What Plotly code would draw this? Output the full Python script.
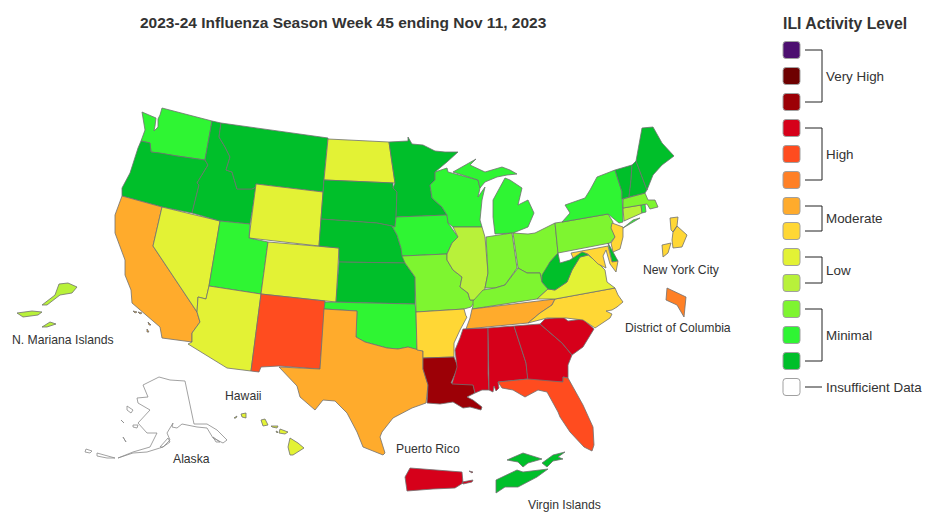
"""ILI activity map, week 45. Plotly's topojson needs the network, so the state
outlines are traced from the picture and drawn as filled traces."""
import plotly.graph_objects as go

TITLE = "2023-24 Influenza Season Week 45 ending Nov 11, 2023"
LEGEND_TITLE = "ILI Activity Level"

# activity level per jurisdiction (1 = lowest, 13 = highest, 0 = insufficient data)
STATES = ["WA", "OR", "CA", "NV", "ID", "MT", "WY", "UT", "AZ", "CO", "NM", "ND", "SD", "NE", "KS",
          "OK", "TX", "MN", "IA", "MO", "AR", "LA", "WI", "IL", "MI", "IN", "OH", "KY", "TN", "MS",
          "AL", "GA", "FL", "SC", "NC", "VA", "WV", "PA", "NY", "NJ", "DE", "MD", "CT", "RI", "MA",
          "VT", "NH", "ME", "AK", "HI", "NYC", "DC", "PR", "VI", "MP"]
LEVELS = [2, 1, 7, 5, 1, 1, 5, 2, 5, 5, 9, 5, 1, 1, 1,
          2, 7, 1, 2, 3, 6, 11, 2, 4, 2, 3, 3, 3, 7, 10,
          10, 10, 9, 10, 6, 5, 1, 3, 2, 6, 1, 6, 4, 2, 3,
          1, 1, 1, 0, 5, 6, 8, 10, 1, 4]

LEVEL_COLORS = ["#FFFFFF", "#00BF2A", "#2FF533", "#7EF530", "#B8F13A", "#E3F235", "#FFD735", "#FFAB2C",
                "#FF8026", "#FF4C1F", "#D6001A", "#9C0006", "#6E0000", "#4D0F70"]

LEGEND_LEVELS = [13, 12, 11, 10, 9, 8, 7, 6, 5, 4, 3, 2, 1, 0]
GROUP_LABELS = ["Very High", "High", "Moderate", "Low", "Minimal", "Insufficient Data"]
GROUP_LEVELS = [(13, 11), (10, 8), (7, 6), (5, 4), (3, 1), (0, 0)]

MAP_LABELS = ["N. Mariana Islands", "Hawaii", "Alaska", "Puerto Rico", "Virgin Islands",
              "New York City", "District of Columbia"]
MAP_LABEL_X = [63, 243, 191, 428, 564, 681, 678]
MAP_LABEL_Y = [340, 396, 459, 449, 505, 270, 328]

# outlines in picture coordinates, one or more rings per jurisdiction
OUTLINES = {
    "WA": [[(142, 112), (150, 115), (156, 118), (155, 126), (154, 131), (158, 127), (158, 119), (160, 115), (162, 108),
            (212, 121), (205, 160), (177, 156), (160, 153), (151, 152), (150, 143), (141, 141), (145, 130)]],
    "OR": [[(141, 141), (150, 143), (151, 152), (160, 153), (177, 156), (205, 160), (208, 165), (197, 183),
            (199, 185), (192, 213), (162, 207), (122, 196), (122, 188), (130, 173), (138, 148)]],
    "CA": [[(122, 196), (162, 207), (153, 246), (197, 312), (200, 322), (192, 333), (192, 342), (162, 338),
            (160, 327), (143, 313), (132, 303), (131, 290), (125, 275), (125, 260), (115, 233), (115, 215), (120, 202)],
           [(133, 311), (137, 312), (135, 313)], [(138, 312), (142, 313), (140, 314)],
           [(148, 322), (151, 325), (149, 325)], [(147, 329), (149, 332), (147, 332)]],
    "NV": [[(162, 207), (220, 221), (209, 286), (206, 299), (198, 297), (197, 312), (153, 246)]],
    "ID": [[(212, 121), (221, 123), (219, 137), (225, 147), (230, 157), (226, 170), (232, 172), (237, 189),
            (252, 189), (256, 187), (250, 224), (220, 221), (192, 213), (199, 185), (197, 183), (208, 165), (205, 160)]],
    "MT": [[(221, 123), (328, 138), (324, 179), (323, 192), (256, 184), (256, 187), (252, 189), (237, 189),
            (232, 172), (226, 170), (230, 157), (225, 147), (219, 137)]],
    "WY": [[(256, 184), (323, 192), (319, 246), (249, 238)]],
    "UT": [[(220, 221), (250, 224), (249, 238), (268, 242), (261, 294), (209, 286)]],
    "AZ": [[(209, 286), (261, 294), (251, 371), (227, 368), (188, 344), (192, 342), (192, 333), (200, 322),
            (197, 312), (198, 297), (206, 299)]],
    "CO": [[(268, 242), (339, 248), (336, 302), (261, 294)]],
    "NM": [[(261, 294), (325, 301), (320, 369), (279, 366), (261, 367), (259, 372), (251, 371)]],
    "ND": [[(328, 139), (389, 142), (392, 163), (395, 183), (324, 180)]],
    "SD": [[(324, 180), (393, 183), (393, 188), (397, 192), (396, 217), (395, 227), (392, 226), (377, 223), (321, 219)]],
    "NE": [[(321, 219), (377, 223), (392, 226), (397, 235), (401, 248), (405, 263), (339, 262), (339, 248), (319, 246)]],
    "KS": [[(339, 262), (405, 263), (410, 270), (415, 277), (415, 304), (336, 302)]],
    "OK": [[(325, 302), (415, 304), (416, 312), (417, 350), (408, 347), (398, 349), (387, 348), (365, 342),
            (356, 337), (357, 311), (324, 309)]],
    "TX": [[(324, 309), (357, 311), (356, 337), (365, 342), (387, 348), (398, 349), (408, 347), (423, 351),
            (423, 369), (428, 385), (426, 403), (413, 407), (412, 408), (393, 418), (382, 432), (380, 437),
            (385, 453), (383, 455), (363, 447), (357, 432), (347, 413), (335, 401), (323, 400), (315, 410),
            (300, 397), (297, 386), (279, 367), (320, 369)]],
    "MN": [[(389, 142), (408, 141), (408, 137), (412, 144), (423, 145), (435, 151), (445, 152), (458, 152),
            (447, 162), (435, 172), (435, 180), (430, 185), (432, 198), (442, 207), (447, 215), (396, 217),
            (397, 192), (393, 188), (395, 183), (392, 163)]],
    "IA": [[(396, 217), (447, 215), (448, 223), (458, 237), (452, 243), (447, 254), (402, 256), (401, 248),
            (397, 235), (392, 226), (395, 227)]],
    "MO": [[(402, 256), (447, 254), (447, 260), (453, 270), (462, 277), (460, 287), (468, 293), (470, 300),
            (476, 300), (471, 307), (464, 309), (416, 312), (415, 277), (410, 270), (405, 263)]],
    "AR": [[(416, 312), (464, 309), (466, 316), (467, 317), (460, 330), (454, 343), (454, 357), (423, 358),
            (423, 351), (417, 350)]],
    "LA": [[(423, 358), (454, 357), (458, 367), (451, 383), (473, 384), (475, 393), (467, 397), (473, 400),
            (482, 407), (481, 410), (470, 407), (463, 408), (453, 402), (440, 404), (427, 403), (428, 385), (423, 369)]],
    "WI": [[(435, 172), (447, 168), (448, 172), (478, 180), (480, 188), (478, 197), (485, 187), (482, 200),
            (480, 220), (482, 227), (453, 227), (448, 223), (447, 215), (442, 207), (432, 198), (430, 185), (435, 180)]],
    "IL": [[(453, 227), (482, 227), (485, 237), (488, 273), (485, 288), (483, 297), (476, 300), (470, 300),
            (468, 293), (460, 287), (462, 277), (453, 270), (447, 260), (447, 254), (452, 243), (458, 237)]],
    "MI": [[(453, 172), (470, 163), (476, 159), (470, 165), (480, 170), (485, 172), (502, 167), (510, 170),
            (517, 174), (507, 175), (497, 177), (485, 182), (480, 188), (478, 180)],
           [(505, 178), (510, 180), (522, 188), (518, 205), (528, 200), (534, 213), (528, 227), (513, 233),
            (495, 234), (493, 217), (493, 200), (500, 188)]],
    "IN": [[(486, 237), (512, 233), (517, 268), (505, 285), (495, 288), (485, 288), (488, 273)]],
    "OH": [[(513, 233), (528, 234), (535, 233), (555, 223), (558, 253), (550, 262), (542, 282), (540, 273),
            (527, 273), (518, 268)]],
    "KY": [[(473, 301), (483, 290), (495, 288), (505, 285), (518, 268), (527, 273), (540, 273), (542, 282),
            (548, 289), (537, 299), (472, 309), (473, 306)]],
    "TN": [[(472, 309), (555, 299), (552, 305), (540, 313), (528, 323), (466, 329), (470, 318)]],
    "MS": [[(463, 329), (488, 328), (488, 373), (489, 390), (482, 390), (475, 393), (473, 385), (452, 384),
            (457, 367), (455, 350), (460, 338)]],
    "AL": [[(488, 328), (514, 326), (526, 363), (528, 379), (498, 382), (499, 388), (496, 391), (494, 386),
            (493, 392), (489, 390)]],
    "GA": [[(514, 326), (540, 324), (562, 343), (572, 355), (568, 365), (568, 378), (563, 377), (563, 382),
            (528, 382), (526, 363)]],
    "FL": [[(498, 382), (528, 379), (563, 382), (563, 377), (568, 378), (583, 405), (593, 427), (594, 445),
            (592, 451), (584, 447), (570, 432), (560, 417), (558, 412), (547, 392), (538, 390), (525, 397),
            (513, 390), (502, 388)]],
    "SC": [[(540, 324), (545, 319), (563, 317), (568, 321), (583, 319), (594, 329), (583, 347), (572, 355), (562, 343)]],
    "NC": [[(555, 299), (615, 288), (618, 295), (623, 302), (617, 307), (612, 310), (606, 311), (612, 314),
            (610, 318), (595, 328), (583, 320), (566, 318), (547, 318), (528, 323), (540, 313), (552, 305)]],
    "VA": [[(537, 299), (548, 289), (555, 290), (567, 282), (572, 270), (580, 257), (588, 255), (597, 262),
            (605, 270), (607, 282), (615, 288), (555, 299)]],
    "WV": [[(542, 282), (542, 275), (550, 262), (558, 253), (560, 263), (570, 260), (583, 251), (588, 255),
            (580, 257), (572, 270), (567, 282), (555, 290), (548, 289)]],
    "PA": [[(555, 223), (562, 222), (608, 214), (613, 222), (612, 228), (615, 237), (610, 243), (558, 253)]],
    "NY": [[(562, 222), (570, 213), (565, 205), (585, 198), (590, 190), (597, 177), (615, 170), (622, 192),
            (623, 222), (619, 223), (608, 214)],
           [(623, 228), (632, 223), (640, 218), (633, 220)]],
    "NJ": [[(612, 223), (623, 227), (623, 237), (620, 249), (613, 252), (611, 243), (615, 237), (611, 228)]],
    "DE": [[(608, 243), (614, 253), (618, 261), (612, 262)]],
    "MD": [[(571, 253), (608, 246), (612, 262), (618, 261), (616, 272), (610, 264), (606, 250), (603, 256),
            (606, 268), (598, 264), (588, 254), (582, 252), (573, 258)]],
    "CT": [[(623, 208), (641, 205), (642, 213), (624, 221)]],
    "RI": [[(641, 205), (645, 204), (646, 212), (642, 213)]],
    "MA": [[(623, 199), (645, 193), (648, 200), (655, 200), (658, 207), (650, 209), (647, 204), (641, 205), (623, 208)]],
    "VT": [[(615, 170), (632, 165), (631, 180), (629, 197), (622, 199), (622, 192)]],
    "NH": [[(632, 165), (636, 161), (647, 190), (645, 193), (629, 197), (631, 180)]],
    "ME": [[(636, 161), (640, 140), (642, 128), (653, 127), (662, 143), (674, 156), (662, 165), (653, 175), (647, 190)]],
    "AK": [[(159, 377), (170, 380), (185, 381), (194, 424), (207, 424), (217, 430), (227, 440), (223, 443),
            (213, 438), (207, 428), (197, 427), (182, 424), (177, 428), (172, 427), (173, 423), (167, 433),
            (170, 440), (163, 447), (147, 452), (133, 453), (118, 458), (133, 452), (150, 447), (157, 433),
            (147, 433), (138, 423), (150, 410), (138, 403), (137, 398), (148, 397), (143, 385)],
           [(86, 449), (92, 451), (90, 453), (85, 452)], [(97, 453), (115, 458), (107, 458), (97, 456)],
           [(127, 406), (133, 410), (131, 413), (127, 410)], [(121, 420), (124, 423), (121, 421)],
           [(133, 425), (138, 425), (137, 428), (133, 427)], [(123, 437), (126, 442), (124, 440)],
           [(160, 447), (168, 438), (170, 442), (163, 447)], [(213, 437), (220, 442), (216, 442)]],
    "HI": [[(290, 438), (298, 443), (304, 448), (293, 455), (290, 455), (288, 447)],
           [(280, 429), (288, 432), (285, 434), (279, 433)], [(271, 426), (278, 426), (277, 428), (272, 427)],
           [(261, 420), (265, 419), (268, 425), (263, 426)], [(241, 414), (246, 413), (246, 418), (242, 417)],
           [(234, 418), (237, 416), (236, 418)], [(276, 431), (278, 432), (277, 433)]],
    "NYC": [[(670, 218), (678, 217), (677, 226), (673, 232), (671, 230)],
            [(677, 226), (687, 235), (682, 247), (673, 248), (672, 240), (673, 232)],
            [(662, 245), (671, 243), (668, 253), (663, 257)]],
    "DC": [[(667, 288), (686, 297), (684, 317), (677, 305), (666, 300)]],
    "PR": [[(410, 468), (462, 472), (463, 483), (455, 488), (433, 489), (407, 491), (405, 477)],
           [(462, 482), (473, 480), (472, 482), (463, 484)], [(469, 471), (473, 472), (472, 473)]],
    "VI": [[(496, 480), (517, 470), (523, 472), (548, 469), (537, 477), (518, 487), (505, 487), (496, 493)],
           [(507, 460), (523, 453), (542, 459), (528, 463), (523, 467), (518, 462)],
           [(542, 463), (553, 455), (565, 452), (558, 457), (563, 459), (553, 461), (547, 467)]],
    "MP": [[(59, 284), (68, 283), (77, 287), (72, 293), (60, 295), (47, 305), (42, 305), (55, 295)],
           [(17, 313), (32, 311), (42, 312), (38, 315), (23, 317)],
           [(42, 327), (50, 322), (56, 324), (47, 327)]],
}

LINE_COLOR = "#707070"
TEXT_COLOR = "#333333"
FONT = "Liberation Sans"

# legend geometry
SWATCH_X, SWATCH_SIZE = 783, 17
SWATCH_Y = [50, 76, 102, 128, 154, 180, 206, 231, 257, 283, 309, 335, 361, 387]
BRACKET_X0, BRACKET_X1, LABEL_X = 805, 822, 824


def rounded_square(x, y, size, r=3):
    """SVG path for a rounded legend swatch, (x, y) is the left middle."""
    t, b, right = y - size / 2, y + size / 2, x + size
    return (f"M{x + r},{t} L{right - r},{t} Q{right},{t} {right},{t + r} L{right},{b - r} "
            f"Q{right},{b} {right - r},{b} L{x + r},{b} Q{x},{b} {x},{b - r} L{x},{t + r} Q{x},{t} {x + r},{t} Z")


fig = go.Figure()

for state, level in zip(STATES, LEVELS):
    xs, ys = [], []
    for ring in OUTLINES[state]:
        xs += [p[0] for p in ring] + [ring[0][0], None]
        ys += [p[1] for p in ring] + [ring[0][1], None]
    fig.add_trace(go.Scatter(
        x=xs, y=ys, mode="lines", fill="toself", name=state,
        fillcolor=LEVEL_COLORS[level],
        line=dict(color="#8A8A8A" if level == 0 else LINE_COLOR, width=0.8),
        hoverinfo="name",
    ))

# legend swatches
for level, y in zip(LEGEND_LEVELS, SWATCH_Y):
    fig.add_shape(type="path", path=rounded_square(SWATCH_X, y, SWATCH_SIZE),
                  fillcolor=LEVEL_COLORS[level], line=dict(color="#A0A0A0", width=1))

# legend brackets and their labels
for label, (top, bottom) in zip(GROUP_LABELS, GROUP_LEVELS):
    y0 = SWATCH_Y[LEGEND_LEVELS.index(top)]
    y1 = SWATCH_Y[LEGEND_LEVELS.index(bottom)]
    fig.add_trace(go.Scatter(
        x=[BRACKET_X0, BRACKET_X1, BRACKET_X1, BRACKET_X0] if y0 != y1 else [BRACKET_X0, BRACKET_X1],
        y=[y0, y0, y1, y1] if y0 != y1 else [y0, y0],
        mode="lines", line=dict(color="#222222", width=1), hoverinfo="skip",
    ))
    fig.add_annotation(x=LABEL_X, y=(y0 + y1) / 2, text=label, showarrow=False, xanchor="left",
                       font=dict(size=13.4, color=TEXT_COLOR, family=FONT))

for label, x, y in zip(MAP_LABELS, MAP_LABEL_X, MAP_LABEL_Y):
    fig.add_annotation(x=x, y=y, text=label, showarrow=False,
                       font=dict(size=12.2, color=TEXT_COLOR, family=FONT))

fig.add_annotation(x=343, y=22, text=f"<b>{TITLE}</b>", showarrow=False,
                   font=dict(size=15.5, color=TEXT_COLOR, family=FONT))
fig.add_annotation(x=781, y=23, text=f"<b>{LEGEND_TITLE}</b>", showarrow=False, xanchor="left",
                   font=dict(size=15.8, color=TEXT_COLOR, family=FONT))

fig.update_layout(
    width=950, height=522, showlegend=False,
    margin=dict(l=0, r=0, t=0, b=0),
    paper_bgcolor="white", plot_bgcolor="white",
)
fig.update_xaxes(range=[0, 950], visible=False)
fig.update_yaxes(range=[522, 0], visible=False)

# the page's default body margin would push the figure off by 8px
fig.write_html("out.html", config={"displayModeBar": False},
               post_script="document.body.style.margin = '0';")
